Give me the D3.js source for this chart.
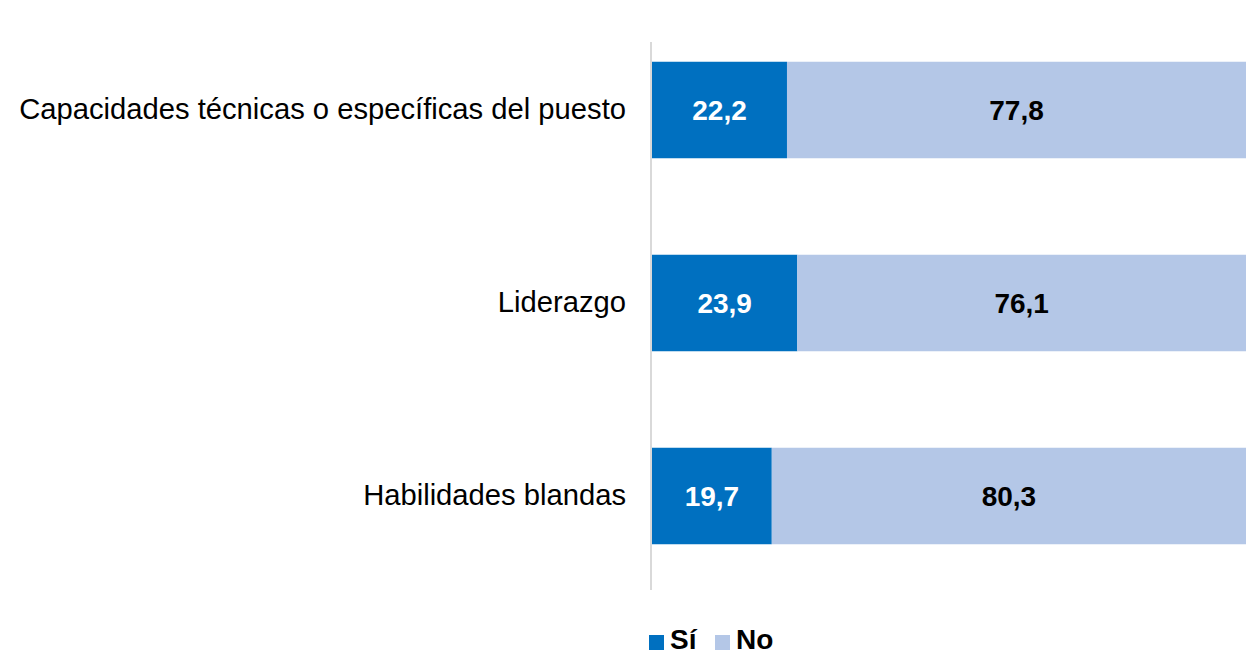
<!DOCTYPE html>
<html><head><meta charset="utf-8">
<script src="https://cdn.jsdelivr.net/npm/d3@7"></script>
<style>body{margin:0;background:#fff}svg{display:block}</style>
</head><body>
<svg id="c" width="1246" height="656"></svg>
<script>
const categories = ["Capacidades técnicas o específicas del puesto", "Liderazgo", "Habilidades blandas"];
const si = [22.2, 23.9, 19.7];
const no = [77.8, 76.1, 80.3];
const seriesNames = ["Sí", "No"];
const colors = ["#0070C0", "#B4C7E7"];

const W = 1246, H = 656;
const svg = d3.select("#c");
const x = d3.scaleLinear().domain([0, 100]).range([652, 1260]);
const y = d3.scaleBand().domain(categories).range([13.5, 592.5]).paddingInner(0.5).paddingOuter(0.25);
const font = "'Liberation Sans', Arial, sans-serif";

const data = categories.map((c, i) => ({c, vals: [si[i], no[i]]}));

data.forEach(d => {
  let acc = 0;
  d.vals.forEach((v, j) => {
    const x0 = x(acc), x1 = x(acc + v);
    svg.append("rect").attr("x", x0).attr("y", y(d.c)).attr("width", x1 - x0).attr("height", y.bandwidth())
      .attr("fill", colors[j]);
    const cx = (x0 + Math.min(x1, W)) / 2;
    svg.append("text").attr("x", cx).attr("y", y(d.c) + y.bandwidth() / 2).attr("dy", "0.36em")
      .attr("text-anchor", "middle").attr("font-family", font).attr("font-weight", "bold").attr("font-size", 28)
      .attr("fill", j === 0 ? "#fff" : "#000").text(v.toFixed(1).replace(".", ","));
    acc += v;
  });
});

// axis line
svg.append("line").attr("x1", 651).attr("x2", 651).attr("y1", 42).attr("y2", 590)
  .attr("stroke", "#d9d9d9").attr("stroke-width", 2);

// category labels
const ax = svg.append("g").attr("transform", "translate(651,0)").call(d3.axisLeft(y).tickSize(0).tickPadding(25));
ax.select(".domain").remove();
ax.selectAll("text").attr("font-family", font).attr("font-size", 29.2).attr("fill", "#000");

// legend
const lg = svg.append("g").attr("font-family", font).attr("font-weight", "bold").attr("font-size", 28);
const lx = [649, 715];
seriesNames.forEach((n, j) => {
  lg.append("rect").attr("x", lx[j]).attr("y", 635).attr("width", 15).attr("height", 15).attr("fill", colors[j]);
  lg.append("text").attr("x", lx[j] + 21).attr("y", 649).attr("fill", "#000").text(n);
});
</script>
</body></html>
